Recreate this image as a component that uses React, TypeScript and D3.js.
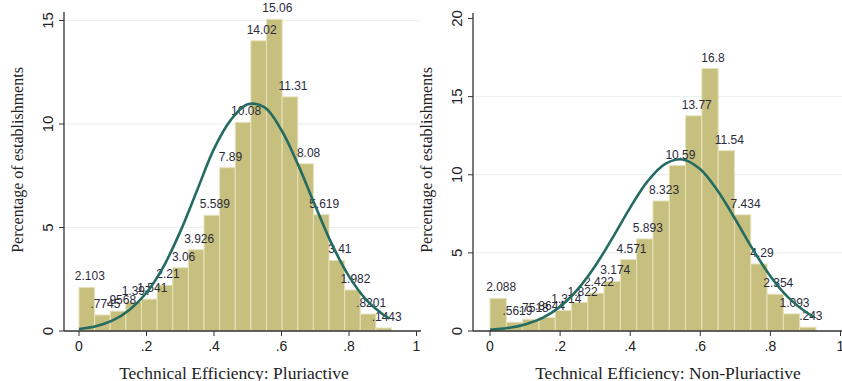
import React from 'react';
import * as d3 from 'd3';

// histogram percentages (20 bins each)
const pluriValues = [2.103, 0.7745, 0.9568, 1.397, 1.541, 2.21, 3.06, 3.926, 5.589, 7.89, 10.08, 14.02, 15.06, 11.31, 8.08, 5.619, 3.41, 1.982, 0.8201, 0.1443];
const pluriLabels = ['2.103', '.7745', '.9568', '1.397', '1.541', '2.21', '3.06', '3.926', '5.589', '7.89', '10.08', '14.02', '15.06', '11.31', '8.08', '5.619', '3.41', '1.982', '.8201', '.1443'];
const nonPluriValues = [2.088, 0.5619, 0.7518, 0.8644, 1.314, 1.822, 2.422, 3.174, 4.571, 5.893, 8.323, 10.59, 13.77, 16.8, 11.54, 7.434, 4.29, 2.354, 1.093, 0.243];
const nonPluriLabels = ['2.088', '.5619', '.7518', '.8644', '1.314', '1.822', '2.422', '3.174', '4.571', '5.893', '8.323', '10.59', '13.77', '16.8', '11.54', '7.434', '4.29', '2.354', '1.093', '.243'];

// normal density overlay
const curveX = [0, 0.05, 0.1, 0.15, 0.2, 0.25, 0.3, 0.35, 0.4, 0.45, 0.5, 0.55, 0.6, 0.65, 0.7, 0.75, 0.8, 0.85, 0.9];
const pluriCurve = [0.1, 0.23, 0.51, 1.03, 1.85, 3.1, 4.8, 6.8, 8.8, 10.2, 10.95, 10.8, 9.7, 8.0, 6.05, 4.17, 2.64, 1.53, 0.81];
const pluriCurveEnd = [0.92, 0.6];
const nonPluriCurve = [0.08, 0.19, 0.42, 0.84, 1.56, 2.66, 4.16, 5.98, 7.9, 9.59, 10.7, 10.98, 10.35, 8.96, 7.14, 5.22, 3.51, 2.17, 1.23];
const nonPluriCurveEnd = [0.925, 0.9];

const xTicks = [0, 0.2, 0.4, 0.6, 0.8, 1];
const xTickLabels = ['0', '.2', '.4', '.6', '.8', '1'];
const pluriYTicks = [0, 5, 10, 15];
const nonPluriYTicks = [0, 5, 10, 15, 20];

const BAR = '#c6bf7d';
const LINE = '#246b62';

type PanelProps = {
  values: number[];
  labels: string[];
  curve: number[];
  curveEnd: number[];
  binWidth: number;
  yTicks: number[];
  yMax: number;
  xRange: [number, number];
  yTop: number;
  axisLeft: number;
  axisRight: number;
  axisTop: number;
  gridRight: number;
  titleX: number;
  yTitleX: number;
  title: string;
};

const Panel = (p: PanelProps) => {
  const y0 = 331;
  const x = d3.scaleLinear().domain([0, 1]).range(p.xRange);
  const y = d3.scaleLinear().domain([0, p.yMax]).range([y0, p.yTop]);

  const pts: [number, number][] = curveX.map((cx, i) => [cx, p.curve[i]]);
  pts.push([p.curveEnd[0], p.curveEnd[1]]);
  const line = d3.line<[number, number]>()
    .x(d => x(d[0]))
    .y(d => y(d[1]))
    .curve(d3.curveCatmullRom);

  return (
    <g>
      {/* grid */}
      {p.yTicks.filter(t => t > 0 && t < 20).map(t => (
        <line key={'g' + t} x1={p.axisLeft} x2={p.gridRight} y1={y(t)} y2={y(t)} stroke="#e8eeee" strokeWidth={1} />
      ))}
      {/* bars */}
      {p.values.map((v, i) => (
        <rect key={'b' + i}
          x={x(i * p.binWidth)}
          y={y(v)}
          width={x((i + 1) * p.binWidth) - x(i * p.binWidth)}
          height={y0 - y(v)}
          fill={BAR} stroke="#e6e2bd" strokeWidth={1} />
      ))}
      {/* bar labels */}
      {p.values.map((v, i) => (
        <text key={'l' + i}
          x={x((i + 0.5) * p.binWidth) + 3}
          y={y(v) - 7}
          textAnchor="middle"
          fontFamily="Liberation Sans, Arial, sans-serif"
          fontSize={12}
          fill="#2b2b3a">{p.labels[i]}</text>
      ))}
      {/* density */}
      <path d={line(pts) || ''} fill="none" stroke={LINE} strokeWidth={2.6} />
      {/* axes */}
      <line x1={p.axisLeft} x2={p.axisLeft} y1={p.axisTop} y2={y0} stroke="#333" strokeWidth={1.3} />
      <line x1={p.axisLeft} x2={p.axisRight} y1={y0} y2={y0} stroke="#333" strokeWidth={1.3} />
      {p.yTicks.map(t => (
        <g key={'yt' + t}>
          <line x1={p.axisLeft - 5} x2={p.axisLeft} y1={y(t)} y2={y(t)} stroke="#333" strokeWidth={1} />
          <text transform={`translate(${p.axisLeft - 11},${y(t)}) rotate(-90)`}
            textAnchor="middle" fontFamily="Liberation Sans, Arial, sans-serif" fontSize={15} fill="#222">{t}</text>
        </g>
      ))}
      {xTicks.map((t, i) => (
        <g key={'xt' + t}>
          <line x1={x(t)} x2={x(t)} y1={y0} y2={y0 + 5} stroke="#333" strokeWidth={1} />
          <text x={x(t)} y={y0 + 20} textAnchor="middle" fontFamily="Liberation Sans, Arial, sans-serif" fontSize={14} fill="#222">{xTickLabels[i]}</text>
        </g>
      ))}
      <text x={p.titleX} y={379} textAnchor="middle" fontFamily="Liberation Serif, Times New Roman, serif" fontSize={17.5} fill="#222">{p.title}</text>
      <text transform={`translate(${p.yTitleX},160) rotate(-90)`} textAnchor="middle"
        fontFamily="Liberation Serif, Times New Roman, serif" fontSize={16} fill="#222">Percentage of establishments</text>
    </g>
  );
};

const App = () => {
  return (
    <div style={{ position: 'fixed', left: 0, top: 0 }}>
      <svg width={842} height={381} style={{ display: 'block', background: '#fff' }}>
        <Panel values={pluriValues} labels={pluriLabels} curve={pluriCurve} curveEnd={pluriCurveEnd}
          binWidth={0.0463} yTicks={pluriYTicks} yMax={15} xRange={[79, 416.5]} yTop={20.5}
          axisLeft={64} axisRight={421} axisTop={12} gridRight={420} titleX={234} yTitleX={23}
          title="Technical Efficiency: Pluriactive" />
        <Panel values={nonPluriValues} labels={nonPluriLabels} curve={nonPluriCurve} curveEnd={nonPluriCurveEnd}
          binWidth={0.0465} yTicks={nonPluriYTicks} yMax={20} xRange={[490, 840.5]} yTop={18.5}
          axisLeft={473} axisRight={842} axisTop={13} gridRight={842} titleX={668} yTitleX={432}
          title="Technical Efficiency: Non-Pluriactive" />
      </svg>
    </div>
  );
};

export default App;
